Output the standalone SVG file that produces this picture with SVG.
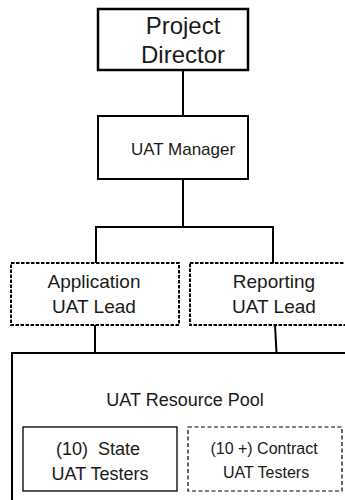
<svg xmlns="http://www.w3.org/2000/svg" width="345" height="500" viewBox="0 0 345 500">
<style>
text{font-family:"Liberation Sans",Arial,sans-serif;fill:#1a1a1a;text-anchor:middle}
.box{fill:#fff;stroke:#000}
.lead{fill:#fff;stroke:#000;stroke-width:2;stroke-dasharray:3.5 1.5}
.con{stroke:#000;stroke-width:2;fill:none}
</style>
<rect width="345" height="500" fill="#fff"/>
<g id="connectors">
<line class="con" x1="183" y1="70" x2="183" y2="116"/>
<line class="con" x1="183" y1="179" x2="183" y2="227"/>
<polyline class="con" points="96,263 96,227 273,227 273,263"/>
<line class="con" x1="95" y1="325" x2="95" y2="353"/>
<line class="con" x1="275" y1="325" x2="276.5" y2="353"/>
</g>
<g id="project-director">
<rect class="box" x="98" y="9" width="150" height="61" stroke-width="2.5"/>
<text x="183" y="34" font-size="24">Project</text>
<text x="183" y="63" font-size="24">Director</text>
</g>
<g id="uat-manager">
<rect class="box" x="98" y="116" width="150" height="63" stroke-width="2"/>
<text x="183" y="155" font-size="17">UAT Manager</text>
</g>
<g id="application-lead">
<rect class="lead" x="11" y="263" width="168" height="62"/>
<text x="94" y="288" font-size="19">Application</text>
<text x="94" y="313" font-size="19">UAT Lead</text>
</g>
<g id="reporting-lead">
<rect class="lead" x="190" y="263" width="170" height="62"/>
<text x="274" y="288" font-size="19">Reporting</text>
<text x="274" y="313" font-size="19">UAT Lead</text>
</g>
<g id="resource-pool">
<rect class="box" x="12" y="353" width="350" height="160" stroke-width="2"/>
<text x="185" y="406" font-size="18">UAT Resource Pool</text>
</g>
<g id="state-testers">
<rect class="box" x="23" y="427" width="154" height="64" stroke-width="1.3"/>
<text x="98" y="455" font-size="18" xml:space="preserve">(10)  State</text>
<text x="100" y="480" font-size="18">UAT Testers</text>
</g>
<g id="contract-testers">
<rect class="box" x="188" y="427" width="154" height="64" stroke-width="1.2" stroke-dasharray="4 2.5"/>
<text x="264" y="454" font-size="16">(10 +) Contract</text>
<text x="266" y="478" font-size="16">UAT Testers</text>
</g>
</svg>
